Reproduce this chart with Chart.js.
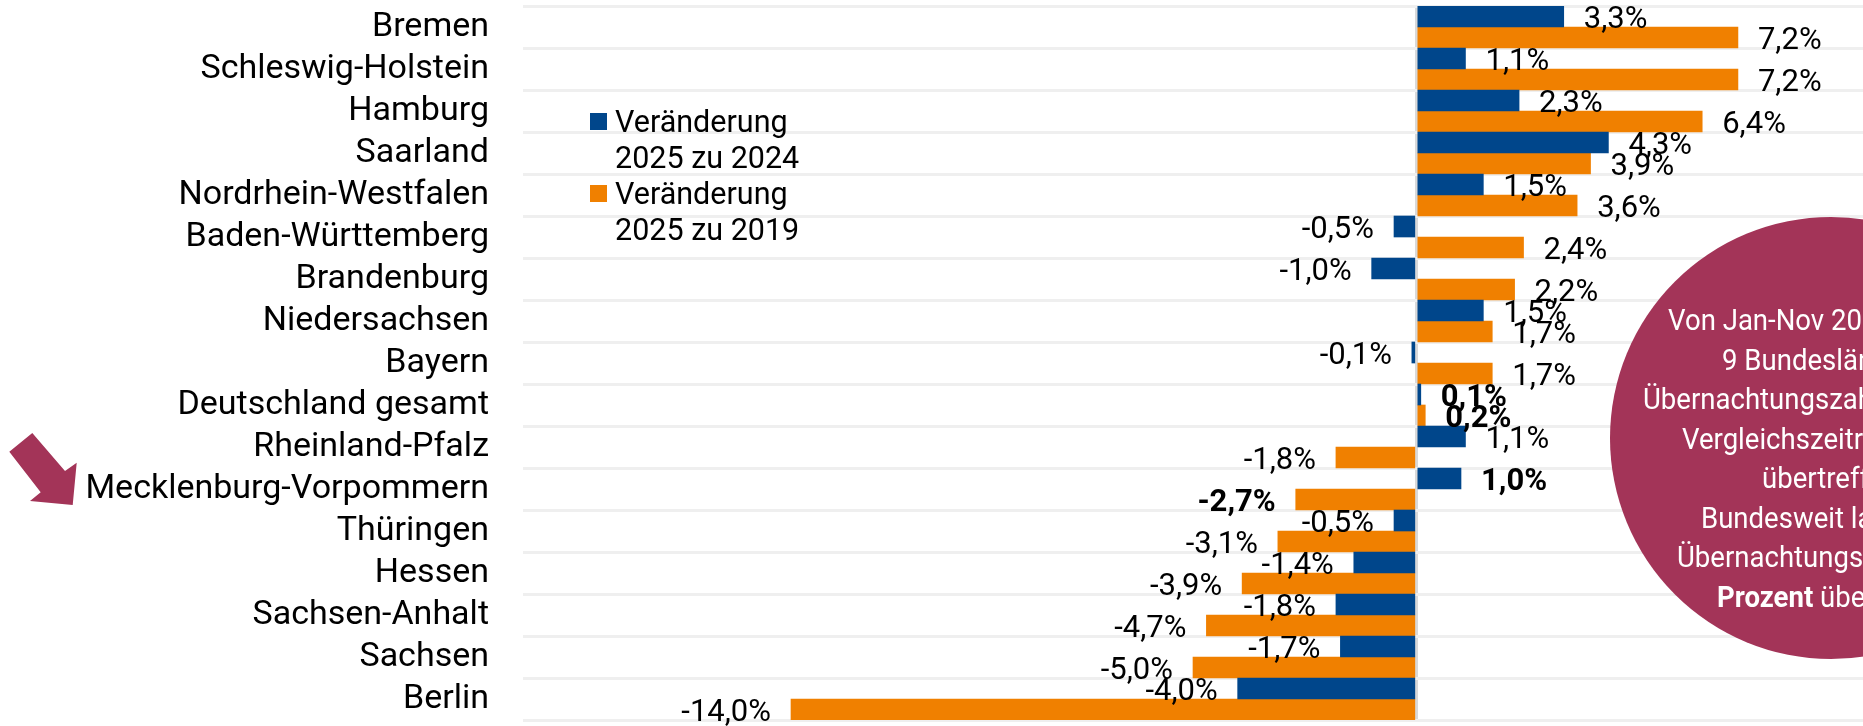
<!DOCTYPE html>
<html lang="de">
<head>
<meta charset="utf-8">
<title>Übernachtungen Bundesländer</title>
<script src="https://cdn.jsdelivr.net/npm/chart.js@4.4.1/dist/chart.umd.min.js"></script>
<style>
  html, body { margin: 0; padding: 0; background: #fff; overflow: hidden; }
  #wrap { position: relative; width: 1863px; height: 726px; overflow: hidden; font-family: Roboto, sans-serif; }
  #chart { position: absolute; left: 0; top: 0; }
  #legend { position: absolute; left: 590px; top: 104px; font-size: 30.5px; line-height: 36px; color: #000; }
  #legend .item { position: relative; padding-left: 25px; }
  #legend .box { position: absolute; left: 0; top: 9px; width: 17px; height: 17px; }
  #arrow { position: absolute; left: 0; top: 0; }
  #bubble { position: absolute; left: 1610px; top: 217px; width: 442px; height: 442px; border-radius: 50%; background: #a33458; }
  #bubbleText { position: absolute; left: 0; top: 301px; color: #fff; font-size: 29px; line-height: 39.5px; white-space: nowrap; }
  #bubbleText div { width: max-content; transform: scaleX(0.95); transform-origin: 0 0; }
</style>
</head>
<body>
<div id="wrap">
  <canvas id="chart" width="1863" height="726"></canvas>
  <div id="legend"></div>
  <svg id="arrow" width="90" height="726">
    <polygon points="32.3,433 65,471 76.7,462.7 72.7,505 30,501 40.7,492.3 9.3,451.7" fill="#a33458"/>
  </svg>
  <div id="bubble"></div>
  <div id="bubbleText">
    <div style="margin-left:1668px">Von Jan-Nov 2025 konnten</div>
    <div style="margin-left:1722px">9 Bundesländer ihre</div>
    <div style="margin-left:1643px">Übernachtungszahlen aus dem</div>
    <div style="margin-left:1682px">Vergleichszeitraum 2024</div>
    <div style="margin-left:1762px">übertreffen.</div>
    <div style="margin-left:1701px">Bundesweit lag die</div>
    <div style="margin-left:1677px">Übernachtungszahl <b>0,1</b></div>
    <div style="margin-left:1717px"><b>Prozent</b> über dem Vorjahr.</div>
  </div>
</div>
<script>
// Bundesländer, sortiert nach Veränderung zu 2019
var laender = ["Bremen", "Schleswig-Holstein", "Hamburg", "Saarland", "Nordrhein-Westfalen",
  "Baden-Württemberg", "Brandenburg", "Niedersachsen", "Bayern", "Deutschland gesamt",
  "Rheinland-Pfalz", "Mecklenburg-Vorpommern", "Thüringen", "Hessen", "Sachsen-Anhalt",
  "Sachsen", "Berlin"];

var seriesNamen = [["Veränderung", "2025 zu 2024"], ["Veränderung", "2025 zu 2019"]];

var vs2024 = [3.3, 1.1, 2.3, 4.3, 1.5, -0.5, -1.0, 1.5, -0.1, 0.1, 1.1, 1.0, -0.5, -1.4, -1.8, -1.7, -4.0];
var vs2019 = [7.2, 7.2, 6.4, 3.9, 3.6, 2.4, 2.2, 1.7, 1.7, 0.2, -1.8, -2.7, -3.1, -3.9, -4.7, -5.0, -14.0];

// Zeilen mit fetten Werten
var fettZeilen = ["Deutschland gesamt", "Mecklenburg-Vorpommern"];

var farben = ["#00468b", "#f08000"];

function fmt(v) {
    return v.toFixed(1).replace(".", ",") + "%";
}

// Legende
var legendEl = document.getElementById("legend");
seriesNamen.forEach(function (zeilen, i) {
    var item = document.createElement("div");
    item.className = "item";
    item.innerHTML = '<span class="box" style="background:' + farben[i] + '"></span>' + zeilen.join("<br>");
    legendEl.appendChild(item);
});

// Werte an den Balkenenden
var barLabels = {
    id: "barLabels",
    afterDatasetsDraw: function (chart) {
        var ctx = chart.ctx;
        ctx.save();
        ctx.fillStyle = "#000";
        ctx.textBaseline = "middle";
        chart.data.datasets.forEach(function (ds, di) {
            chart.getDatasetMeta(di).data.forEach(function (bar, i) {
                var v = ds.data[i];
                var fett = fettZeilen.indexOf(chart.data.labels[i]) >= 0;
                ctx.font = (fett ? "bold " : "") + "31px Roboto";
                ctx.textAlign = v < 0 ? "right" : "left";
                ctx.fillText(fmt(v), bar.x + (v < 0 ? -20 : 20), bar.y + 4);
            });
        });
        ctx.restore();
    }
};

var chart = new Chart(document.getElementById("chart"), {
    type: "bar",
    data: {
        labels: laender,
        datasets: [
            { label: seriesNamen[0].join(" "), data: vs2024, backgroundColor: farben[0] },
            { label: seriesNamen[1].join(" "), data: vs2019, backgroundColor: farben[1] }
        ]
    },
    options: {
        indexAxis: "y",
        responsive: false,
        animation: false,
        categoryPercentage: 1,
        barPercentage: 1,
        layout: { padding: { top: 6, bottom: 6, left: 0, right: 0 } },
        plugins: {
            legend: { display: false },
            tooltip: { enabled: false }
        },
        scales: {
            x: {
                min: -20,
                max: 10,
                ticks: { display: false, stepSize: 5 },
                border: { display: false },
                grid: {
                    drawTicks: false,
                    lineWidth: 3,
                    color: function (c) { return c.tick && c.tick.value === 0 ? "#d9d9d9" : "rgba(0,0,0,0)"; }
                }
            },
            y: {
                border: { display: false },
                grid: { drawTicks: false, lineWidth: 3, color: "#efefef" },
                ticks: { autoSkip: false, padding: 34, color: "#000", font: { family: "Roboto", size: 34 } },
                afterFit: function (scale) {
                    scale.width = 523;
                    scale.paddingTop = 0;
                    scale.paddingBottom = 0;
                }
            }
        }
    },
    plugins: [barLabels]
});
</script>
</body>
</html>
